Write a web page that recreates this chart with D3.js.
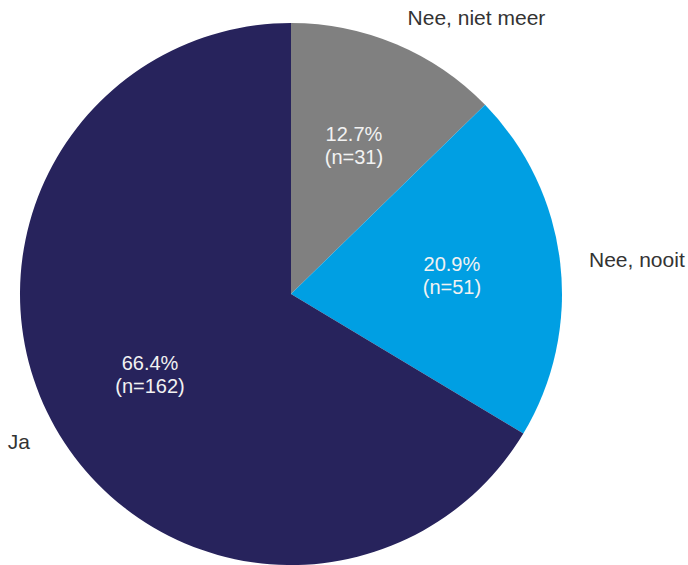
<!DOCTYPE html>
<html>
<head>
<meta charset="utf-8">
<script src="https://cdn.jsdelivr.net/npm/d3@7"></script>
<style>
  html, body { margin: 0; padding: 0; background: #fff; }
  svg { display: block; font-family: "Liberation Sans", Arial, sans-serif; }
</style>
</head>
<body>
<svg id="chart" width="688" height="565"></svg>
<script>
const categories = ["Nee, niet meer", "Nee, nooit", "Ja"];
const counts = [31, 51, 162];
const percents = ["12.7%", "20.9%", "66.4%"];
const colors = ["#808080", "#009FE3", "#27235C"];

const W = 688, H = 565;
const cx = 291, cy = 294, R = 271;
const labelR = 162, outerR = 300;

const data = categories.map((c, i) => ({ cat: c, n: counts[i], pct: percents[i], color: colors[i] }));

const svg = d3.select("#chart");
const g = svg.append("g").attr("transform", `translate(${cx},${cy})`);

const pie = d3.pie().value(d => d.n).sort(null).startAngle(0).endAngle(2 * Math.PI);
const arcs = pie(data);
const arc = d3.arc().innerRadius(0).outerRadius(R);
const labelArc = d3.arc().innerRadius(labelR).outerRadius(labelR);
const outerArc = d3.arc().innerRadius(outerR).outerRadius(outerR);

g.selectAll("path.slice").data(arcs).enter().append("path")
  .attr("class", "slice")
  .attr("d", arc)
  .attr("fill", d => d.data.color);

const inner = g.selectAll("text.inner").data(arcs).enter().append("text")
  .attr("class", "inner")
  .attr("transform", d => `translate(${labelArc.centroid(d)})`)
  .attr("text-anchor", "middle")
  .attr("fill", "#f2f2f2")
  .style("font-size", "20px");
inner.append("tspan").attr("x", 0).attr("y", -4).text(d => d.data.pct);
inner.append("tspan").attr("x", 0).attr("y", 19).text(d => `(n=${d.data.n})`);

g.selectAll("text.outer").data(arcs).enter().append("text")
  .attr("class", "outer")
  .attr("transform", d => `translate(${outerArc.centroid(d)})`)
  .attr("text-anchor", d => ((d.startAngle + d.endAngle) / 2 < Math.PI ? "start" : "end"))
  .attr("dy", "0.35em")
  .attr("fill", "#333333")
  .style("font-size", "21px")
  .text(d => d.data.cat);
</script>
</body>
</html>
